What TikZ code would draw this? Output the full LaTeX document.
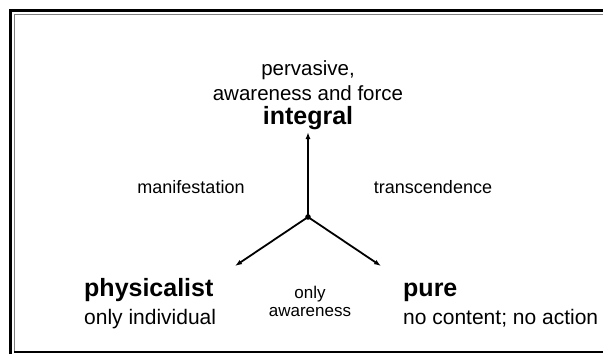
\documentclass[tikz,border=0pt]{standalone}
\usepackage{fontspec}
\setmainfont{Liberation Sans}
\usetikzlibrary{arrows.meta}
\begin{document}
\begin{tikzpicture}[x=1pt,y=-1pt,
  txt/.style={inner sep=0pt,font=\fontsize{#1}{#1}\selectfont},
  btxt/.style={inner sep=0pt,font=\fontsize{#1}{#1}\selectfont\bfseries},
  arr/.style={line width=1.8pt,-{Latex[length=7pt,width=5pt]}}]
\useasboundingbox (0,0) rectangle (603,354);
% frame
\draw[line width=3pt,black] (10,354) -- (10,10) -- (603,10);
\draw[line width=1.5pt,gray] (14.5,352) -- (14.5,14.5) -- (603,14.5);
\draw[line width=2pt,black] (14,352) -- (603,352);
% centre and arrows
\coordinate (c) at (308,217);
\coordinate (up) at (308,132);
\coordinate (l) at (235,266);
\coordinate (r) at (381,266);
\fill (c) circle (2.8pt);
\draw[arr] (c) -- (up);
\draw[arr] (c) -- (l);
\draw[arr] (c) -- (r);
% texts
\node[txt=20.5] (perv) at (308,70) {pervasive,};
\node[txt=20.5] (awf) at (308,93) {awareness and force};
\node[btxt=25] (int) at (308,118) {integral};
\node[txt=18] (man) at (191,187) {manifestation};
\node[txt=18] (tra) at (433,187) {transcendence};
\node[btxt=25,anchor=base west] (phy) at (84,296) {physicalist};
\node[txt=21,anchor=base west] (ind) at (84,324) {only individual};
\node[txt=17] (only) at (310,294) {only};
\node[txt=17] (awa) at (310,312) {awareness};
\node[btxt=25,anchor=base west] (pure) at (403,296) {pure};
\node[txt=21,anchor=base west] (noc) at (403,324) {no content; no action};
\end{tikzpicture}
\end{document}
